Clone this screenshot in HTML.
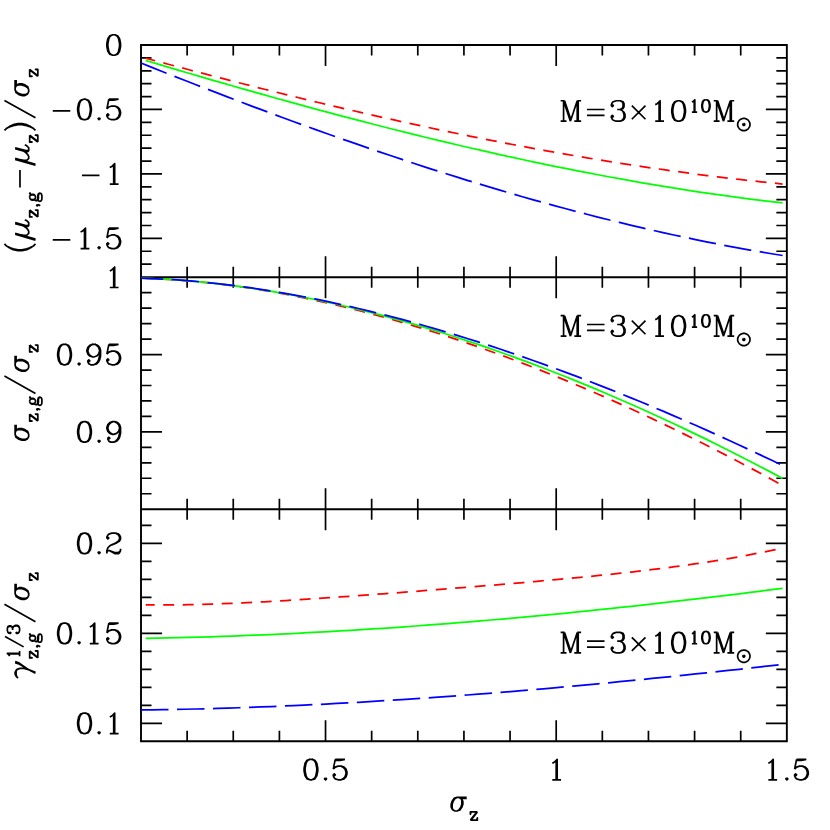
<!DOCTYPE html>
<html><head><meta charset="utf-8"><title>plot</title>
<style>html,body{margin:0;padding:0;background:#fff;font-family:"Liberation Sans",sans-serif}svg{display:block}</style>
</head><body>
<svg width="830" height="830" viewBox="0 0 830 830">
<rect width="830" height="830" fill="#fff"/>
<g fill="none" stroke="#000" stroke-width="1.9" stroke-linecap="butt" stroke-linejoin="miter">
<path d="M141.00 45.00 H786.85 V741.30 H141.00 Z M141.00 277.25 H786.85 M141.00 509.20 H786.85"/>
<path stroke-width="1.7" d="M187.13 45.00 v10.50 M187.13 266.75 v21.00 M187.13 498.70 v21.00 M187.13 741.30 v-10.50 M233.26 45.00 v10.50 M233.26 266.75 v21.00 M233.26 498.70 v21.00 M233.26 741.30 v-10.50 M279.40 45.00 v10.50 M279.40 266.75 v21.00 M279.40 498.70 v21.00 M279.40 741.30 v-10.50 M325.53 45.00 v21.00 M325.53 256.25 v42.00 M325.53 488.20 v42.00 M325.53 741.30 v-21.00 M371.66 45.00 v10.50 M371.66 266.75 v21.00 M371.66 498.70 v21.00 M371.66 741.30 v-10.50 M417.79 45.00 v10.50 M417.79 266.75 v21.00 M417.79 498.70 v21.00 M417.79 741.30 v-10.50 M463.93 45.00 v10.50 M463.93 266.75 v21.00 M463.93 498.70 v21.00 M463.93 741.30 v-10.50 M510.06 45.00 v10.50 M510.06 266.75 v21.00 M510.06 498.70 v21.00 M510.06 741.30 v-10.50 M556.19 45.00 v21.00 M556.19 256.25 v42.00 M556.19 488.20 v42.00 M556.19 741.30 v-21.00 M602.32 45.00 v10.50 M602.32 266.75 v21.00 M602.32 498.70 v21.00 M602.32 741.30 v-10.50 M648.45 45.00 v10.50 M648.45 266.75 v21.00 M648.45 498.70 v21.00 M648.45 741.30 v-10.50 M694.59 45.00 v10.50 M694.59 266.75 v21.00 M694.59 498.70 v21.00 M694.59 741.30 v-10.50 M740.72 45.00 v10.50 M740.72 266.75 v21.00 M740.72 498.70 v21.00 M740.72 741.30 v-10.50 M141.00 57.89 h10.50 M786.85 57.89 h-10.50 M141.00 70.78 h10.50 M786.85 70.78 h-10.50 M141.00 83.68 h10.50 M786.85 83.68 h-10.50 M141.00 96.57 h10.50 M786.85 96.57 h-10.50 M141.00 109.46 h21.00 M786.85 109.46 h-21.00 M141.00 122.35 h10.50 M786.85 122.35 h-10.50 M141.00 135.24 h10.50 M786.85 135.24 h-10.50 M141.00 148.13 h10.50 M786.85 148.13 h-10.50 M141.00 161.03 h10.50 M786.85 161.03 h-10.50 M141.00 173.92 h21.00 M786.85 173.92 h-21.00 M141.00 186.81 h10.50 M786.85 186.81 h-10.50 M141.00 199.70 h10.50 M786.85 199.70 h-10.50 M141.00 212.59 h10.50 M786.85 212.59 h-10.50 M141.00 225.48 h10.50 M786.85 225.48 h-10.50 M141.00 238.38 h21.00 M786.85 238.38 h-21.00 M141.00 251.27 h10.50 M786.85 251.27 h-10.50 M141.00 264.16 h10.50 M786.85 264.16 h-10.50 M141.00 493.74 h10.50 M786.85 493.74 h-10.50 M141.00 478.27 h10.50 M786.85 478.27 h-10.50 M141.00 462.81 h10.50 M786.85 462.81 h-10.50 M141.00 447.35 h10.50 M786.85 447.35 h-10.50 M141.00 431.88 h21.00 M786.85 431.88 h-21.00 M141.00 416.42 h10.50 M786.85 416.42 h-10.50 M141.00 400.96 h10.50 M786.85 400.96 h-10.50 M141.00 385.49 h10.50 M786.85 385.49 h-10.50 M141.00 370.03 h10.50 M786.85 370.03 h-10.50 M141.00 354.57 h21.00 M786.85 354.57 h-21.00 M141.00 339.10 h10.50 M786.85 339.10 h-10.50 M141.00 323.64 h10.50 M786.85 323.64 h-10.50 M141.00 308.18 h10.50 M786.85 308.18 h-10.50 M141.00 292.71 h10.50 M786.85 292.71 h-10.50 M141.00 723.31 h21.00 M786.85 723.31 h-21.00 M141.00 705.32 h10.50 M786.85 705.32 h-10.50 M141.00 687.32 h10.50 M786.85 687.32 h-10.50 M141.00 669.33 h10.50 M786.85 669.33 h-10.50 M141.00 651.34 h10.50 M786.85 651.34 h-10.50 M141.00 633.35 h21.00 M786.85 633.35 h-21.00 M141.00 615.35 h10.50 M786.85 615.35 h-10.50 M141.00 597.36 h10.50 M786.85 597.36 h-10.50 M141.00 579.37 h10.50 M786.85 579.37 h-10.50 M141.00 561.38 h10.50 M786.85 561.38 h-10.50 M141.00 543.39 h21.00 M786.85 543.39 h-21.00 M141.00 525.39 h10.50 M786.85 525.39 h-10.50"/>
</g>
<g fill="none" stroke-width="1.75" stroke-linecap="butt" stroke-linejoin="round">
<path d="M145.70 58.16 L156.49 61.08 L167.29 63.98 L178.08 66.87 L188.88 69.74 L199.67 72.59 L210.47 75.41 L221.26 78.22 L232.06 81.01 L242.85 83.77 L253.65 86.51 L264.44 89.24 L275.24 91.93 L286.03 94.61 L296.83 97.26 L307.62 99.88 L318.42 102.48 L329.21 105.06 L340.01 107.61 L350.80 110.13 L361.60 112.63 L372.39 115.10 L383.19 117.54 L393.98 119.96 L404.78 122.34 L415.57 124.70 L426.37 127.03 L437.16 129.32 L447.96 131.59 L458.75 133.82 L469.55 136.03 L480.34 138.20 L491.14 140.33 L501.93 142.44 L512.73 144.51 L523.52 146.55 L534.32 148.55 L545.11 150.52 L555.91 152.45 L566.70 154.35 L577.50 156.21 L588.29 158.04 L599.09 159.82 L609.88 161.57 L620.68 163.28 L631.47 164.95 L642.27 166.58 L653.06 168.18 L663.86 169.73 L674.65 171.24 L685.45 172.71 L696.24 174.14 L707.04 175.53 L717.83 176.87 L728.63 178.17 L739.42 179.43 L750.22 180.64 L761.01 181.81 L771.81 182.93 L782.60 184.01" stroke="#ff0000" stroke-dasharray="11 8.5" stroke-dashoffset="1.2"/>
<path d="M145.70 60.48 L156.49 63.70 L167.29 66.91 L178.08 70.10 L188.88 73.27 L199.67 76.42 L210.47 79.56 L221.26 82.68 L232.06 85.78 L242.85 88.86 L253.65 91.91 L264.44 94.95 L275.24 97.97 L286.03 100.96 L296.83 103.93 L307.62 106.87 L318.42 109.79 L329.21 112.69 L340.01 115.56 L350.80 118.40 L361.60 121.22 L372.39 124.01 L383.19 126.77 L393.98 129.50 L404.78 132.20 L415.57 134.87 L426.37 137.51 L437.16 140.12 L447.96 142.69 L458.75 145.24 L469.55 147.74 L480.34 150.22 L491.14 152.66 L501.93 155.06 L512.73 157.43 L523.52 159.76 L534.32 162.06 L545.11 164.31 L555.91 166.53 L566.70 168.71 L577.50 170.85 L588.29 172.94 L599.09 175.00 L609.88 177.01 L620.68 178.98 L631.47 180.91 L642.27 182.79 L653.06 184.63 L663.86 186.43 L674.65 188.17 L685.45 189.88 L696.24 191.53 L707.04 193.14 L717.83 194.69 L728.63 196.20 L739.42 197.66 L750.22 199.07 L761.01 200.42 L771.81 201.73 L782.60 202.98" stroke="#00ff00"/>
<path d="M141.00 63.04 L151.87 67.38 L162.75 71.70 L173.62 76.00 L184.50 80.27 L195.37 84.52 L206.25 88.74 L217.12 92.93 L228.00 97.10 L238.87 101.24 L249.75 105.35 L260.62 109.43 L271.49 113.48 L282.37 117.50 L293.24 121.48 L304.12 125.44 L314.99 129.36 L325.87 133.24 L336.74 137.09 L347.62 140.91 L358.49 144.69 L369.37 148.43 L380.24 152.13 L391.12 155.79 L401.99 159.42 L412.86 163.00 L423.74 166.55 L434.61 170.05 L445.49 173.51 L456.36 176.92 L467.24 180.29 L478.11 183.62 L488.99 186.90 L499.86 190.14 L510.74 193.33 L521.61 196.47 L532.48 199.56 L543.36 202.60 L554.23 205.59 L565.11 208.53 L575.98 211.42 L586.86 214.26 L597.73 217.04 L608.61 219.77 L619.48 222.45 L630.36 225.07 L641.23 227.63 L652.11 230.14 L662.98 232.59 L673.85 234.98 L684.73 237.31 L695.60 239.58 L706.48 241.79 L717.35 243.94 L728.23 246.03 L739.10 248.05 L749.98 250.02 L760.85 251.91 L771.73 253.74 L782.60 255.51" stroke="#0000ff" stroke-dasharray="27.5 8.5"/>
<path d="M141.00 278.12 L151.87 278.52 L162.75 279.06 L173.62 279.75 L184.50 280.56 L195.37 281.51 L206.25 282.60 L217.12 283.81 L228.00 285.15 L238.87 286.62 L249.75 288.20 L260.62 289.91 L271.49 291.74 L282.37 293.69 L293.24 295.75 L304.12 297.93 L314.99 300.22 L325.87 302.61 L336.74 305.12 L347.62 307.73 L358.49 310.45 L369.37 313.27 L380.24 316.20 L391.12 319.22 L401.99 322.34 L412.86 325.56 L423.74 328.88 L434.61 332.29 L445.49 335.79 L456.36 339.39 L467.24 343.07 L478.11 346.85 L488.99 350.71 L499.86 354.67 L510.74 358.71 L521.61 362.83 L532.48 367.04 L543.36 371.33 L554.23 375.70 L565.11 380.16 L575.98 384.69 L586.86 389.31 L597.73 394.01 L608.61 398.78 L619.48 403.63 L630.36 408.56 L641.23 413.57 L652.11 418.65 L662.98 423.81 L673.85 429.04 L684.73 434.35 L695.60 439.73 L706.48 445.19 L717.35 450.72 L728.23 456.32 L739.10 462.00 L749.98 467.75 L760.85 473.57 L771.73 479.47 L782.60 485.44" stroke="#ff0000" stroke-dasharray="11 8.5" stroke-dashoffset="-1.6"/>
<path d="M141.00 278.12 L151.87 278.52 L162.75 279.05 L173.62 279.72 L184.50 280.52 L195.37 281.44 L206.25 282.49 L217.12 283.67 L228.00 284.96 L238.87 286.38 L249.75 287.92 L260.62 289.57 L271.49 291.33 L282.37 293.21 L293.24 295.20 L304.12 297.30 L314.99 299.51 L325.87 301.82 L336.74 304.23 L347.62 306.75 L358.49 309.37 L369.37 312.09 L380.24 314.90 L391.12 317.81 L401.99 320.82 L412.86 323.92 L423.74 327.12 L434.61 330.40 L445.49 333.78 L456.36 337.24 L467.24 340.80 L478.11 344.43 L488.99 348.16 L499.86 351.97 L510.74 355.86 L521.61 359.84 L532.48 363.90 L543.36 368.03 L554.23 372.25 L565.11 376.55 L575.98 380.93 L586.86 385.38 L597.73 389.92 L608.61 394.53 L619.48 399.21 L630.36 403.98 L641.23 408.81 L652.11 413.73 L662.98 418.71 L673.85 423.77 L684.73 428.91 L695.60 434.12 L706.48 439.40 L717.35 444.76 L728.23 450.18 L739.10 455.69 L749.98 461.26 L760.85 466.91 L771.73 472.63 L782.60 478.42" stroke="#00ff00"/>
<path d="M141.00 278.12 L151.87 278.52 L162.75 279.05 L173.62 279.70 L184.50 280.49 L195.37 281.40 L206.25 282.43 L217.12 283.58 L228.00 284.85 L238.87 286.24 L249.75 287.74 L260.62 289.35 L271.49 291.06 L282.37 292.89 L293.24 294.82 L304.12 296.85 L314.99 298.98 L325.87 301.22 L336.74 303.55 L347.62 305.97 L358.49 308.49 L369.37 311.10 L380.24 313.81 L391.12 316.60 L401.99 319.47 L412.86 322.44 L423.74 325.48 L434.61 328.61 L445.49 331.82 L456.36 335.11 L467.24 338.48 L478.11 341.92 L488.99 345.44 L499.86 349.04 L510.74 352.71 L521.61 356.45 L532.48 360.26 L543.36 364.14 L554.23 368.09 L565.11 372.11 L575.98 376.19 L586.86 380.34 L597.73 384.56 L608.61 388.84 L619.48 393.18 L630.36 397.59 L641.23 402.06 L652.11 406.59 L662.98 411.18 L673.85 415.83 L684.73 420.54 L695.60 425.32 L706.48 430.14 L717.35 435.03 L728.23 439.98 L739.10 444.98 L749.98 450.04 L760.85 455.16 L771.73 460.33 L782.60 465.56" stroke="#0000ff" stroke-dasharray="27.5 8.5" stroke-dashoffset="5.3"/>
<path d="M145.70 604.91 L156.49 604.98 L167.29 604.96 L178.08 604.86 L188.88 604.68 L199.67 604.43 L210.47 604.12 L221.26 603.75 L232.06 603.32 L242.85 602.84 L253.65 602.32 L264.44 601.76 L275.24 601.16 L286.03 600.53 L296.83 599.86 L307.62 599.17 L318.42 598.46 L329.21 597.72 L340.01 596.96 L350.80 596.19 L361.60 595.41 L372.39 594.61 L383.19 593.80 L393.98 592.98 L404.78 592.15 L415.57 591.31 L426.37 590.47 L437.16 589.62 L447.96 588.76 L458.75 587.89 L469.55 587.02 L480.34 586.14 L491.14 585.25 L501.93 584.35 L512.73 583.44 L523.52 582.51 L534.32 581.57 L545.11 580.62 L555.91 579.64 L566.70 578.64 L577.50 577.62 L588.29 576.57 L599.09 575.49 L609.88 574.37 L620.68 573.22 L631.47 572.02 L642.27 570.78 L653.06 569.49 L663.86 568.14 L674.65 566.73 L685.45 565.25 L696.24 563.71 L707.04 562.08 L717.83 560.38 L728.63 558.58 L739.42 556.69 L750.22 554.70 L761.01 552.60 L771.81 550.38 L782.60 548.04" stroke="#ff0000" stroke-dasharray="11 8.5" stroke-dashoffset="2"/>
<path d="M145.70 638.30 L156.49 638.11 L167.29 637.89 L178.08 637.65 L188.88 637.38 L199.67 637.09 L210.47 636.76 L221.26 636.42 L232.06 636.04 L242.85 635.64 L253.65 635.22 L264.44 634.77 L275.24 634.30 L286.03 633.80 L296.83 633.28 L307.62 632.73 L318.42 632.16 L329.21 631.57 L340.01 630.95 L350.80 630.32 L361.60 629.65 L372.39 628.97 L383.19 628.26 L393.98 627.53 L404.78 626.78 L415.57 626.00 L426.37 625.21 L437.16 624.39 L447.96 623.56 L458.75 622.70 L469.55 621.82 L480.34 620.92 L491.14 620.00 L501.93 619.06 L512.73 618.10 L523.52 617.12 L534.32 616.12 L545.11 615.10 L555.91 614.07 L566.70 613.01 L577.50 611.94 L588.29 610.84 L599.09 609.73 L609.88 608.61 L620.68 607.46 L631.47 606.30 L642.27 605.12 L653.06 603.92 L663.86 602.71 L674.65 601.48 L685.45 600.23 L696.24 598.97 L707.04 597.69 L717.83 596.40 L728.63 595.09 L739.42 593.76 L750.22 592.42 L761.01 591.07 L771.81 589.70 L782.60 588.32" stroke="#00ff00"/>
<path d="M141.00 709.98 L151.87 709.84 L162.75 709.67 L173.62 709.47 L184.50 709.25 L195.37 709.00 L206.25 708.73 L217.12 708.43 L228.00 708.10 L238.87 707.75 L249.75 707.37 L260.62 706.96 L271.49 706.54 L282.37 706.09 L293.24 705.61 L304.12 705.11 L314.99 704.59 L325.87 704.04 L336.74 703.48 L347.62 702.89 L358.49 702.27 L369.37 701.64 L380.24 700.98 L391.12 700.30 L401.99 699.61 L412.86 698.89 L423.74 698.15 L434.61 697.39 L445.49 696.61 L456.36 695.81 L467.24 695.00 L478.11 694.16 L488.99 693.31 L499.86 692.44 L510.74 691.54 L521.61 690.64 L532.48 689.71 L543.36 688.77 L554.23 687.81 L565.11 686.84 L575.98 685.85 L586.86 684.84 L597.73 683.82 L608.61 682.78 L619.48 681.73 L630.36 680.66 L641.23 679.58 L652.11 678.49 L662.98 677.38 L673.85 676.26 L684.73 675.13 L695.60 673.98 L706.48 672.82 L717.35 671.65 L728.23 670.47 L739.10 669.27 L749.98 668.07 L760.85 666.85 L771.73 665.63 L782.60 664.39" stroke="#0000ff" stroke-dasharray="27.5 8.5"/>
</g>
<g fill="none" stroke="#000" stroke-width="1.7" stroke-linecap="butt" stroke-linejoin="round">
<path d="M112.73 34.76 L109.81 35.74 L107.86 38.66 L106.88 43.54 L106.88 46.46 L107.86 51.34 L109.81 54.26 L112.73 55.24 L114.68 55.24 L117.61 54.26 L119.56 51.34 L120.53 46.46 L120.53 43.54 L119.56 38.66 L117.61 35.74 L114.68 34.76 L112.73 34.76 M112.73 34.76 L110.78 35.74 L109.81 36.71 L108.83 38.66 L107.86 43.54 L107.86 46.46 L108.83 51.34 L109.81 53.29 L110.78 54.26 L112.73 55.24 M114.68 55.24 L116.63 54.26 L117.61 53.29 L118.58 51.34 L119.56 46.46 L119.56 43.54 L118.58 38.66 L117.61 36.71 L116.63 35.74 L114.68 34.76"/>
<path d="M52.74 110.92 L70.29 110.92 M83.53 99.22 L80.60 100.20 L78.66 103.12 L77.68 108.00 L77.68 110.92 L78.66 115.80 L80.60 118.72 L83.53 119.70 L85.48 119.70 L88.41 118.72 L90.35 115.80 L91.33 110.92 L91.33 108.00 L90.35 103.12 L88.41 100.20 L85.48 99.22 L83.53 99.22 M83.53 99.22 L81.58 100.20 L80.60 101.17 L79.63 103.12 L78.66 108.00 L78.66 110.92 L79.63 115.80 L80.60 117.75 L81.58 118.72 L83.53 119.70 M85.48 119.70 L87.43 118.72 L88.41 117.75 L89.38 115.80 L90.35 110.92 L90.35 108.00 L89.38 103.12 L88.41 101.17 L87.43 100.20 L85.48 99.22 M99.11 117.75 L98.13 118.72 L99.11 119.70 L100.08 118.72 L99.11 117.75 M108.83 99.22 L106.88 108.97 M106.88 108.97 L108.83 107.02 L111.76 106.05 L114.68 106.05 L117.61 107.02 L119.56 108.97 L120.53 111.90 L120.53 113.85 L119.56 116.77 L117.61 118.72 L114.68 119.70 L111.76 119.70 L108.83 118.72 L107.86 117.75 L106.88 115.80 L106.88 114.82 L107.86 113.85 L108.83 114.82 L107.86 115.80 M114.68 106.05 L116.63 107.02 L118.58 108.97 L119.56 111.90 L119.56 113.85 L118.58 116.77 L116.63 118.72 L114.68 119.70 M108.83 99.22 L118.58 99.22 M108.83 100.20 L113.71 100.20 L118.58 99.22"/>
<path d="M81.95 175.38 L99.50 175.38 M109.81 167.58 L111.76 166.60 L114.68 163.68 L114.68 184.15 M113.71 164.65 L113.71 184.15 M109.81 184.15 L118.58 184.15"/>
<path d="M52.74 239.84 L70.29 239.84 M80.60 232.04 L82.56 231.06 L85.48 228.14 L85.48 248.61 M84.50 229.11 L84.50 248.61 M80.60 248.61 L89.38 248.61 M99.11 246.66 L98.13 247.64 L99.11 248.61 L100.08 247.64 L99.11 246.66 M108.83 228.14 L106.88 237.89 M106.88 237.89 L108.83 235.94 L111.76 234.96 L114.68 234.96 L117.61 235.94 L119.56 237.89 L120.53 240.81 L120.53 242.76 L119.56 245.69 L117.61 247.64 L114.68 248.61 L111.76 248.61 L108.83 247.64 L107.86 246.66 L106.88 244.71 L106.88 243.74 L107.86 242.76 L108.83 243.74 L107.86 244.71 M114.68 234.96 L116.63 235.94 L118.58 237.89 L119.56 240.81 L119.56 242.76 L118.58 245.69 L116.63 247.64 L114.68 248.61 M108.83 228.14 L118.58 228.14 M108.83 229.11 L113.71 229.11 L118.58 228.14"/>
<path d="M109.81 270.91 L111.76 269.94 L114.68 267.01 L114.68 287.49 M113.71 267.99 L113.71 287.49 M109.81 287.49 L118.58 287.49"/>
<path d="M63.54 344.33 L60.62 345.30 L58.67 348.23 L57.69 353.10 L57.69 356.03 L58.67 360.90 L60.62 363.83 L63.54 364.80 L65.49 364.80 L68.42 363.83 L70.37 360.90 L71.34 356.03 L71.34 353.10 L70.37 348.23 L68.42 345.30 L65.49 344.33 L63.54 344.33 M63.54 344.33 L61.59 345.30 L60.62 346.28 L59.64 348.23 L58.67 353.10 L58.67 356.03 L59.64 360.90 L60.62 362.85 L61.59 363.83 L63.54 364.80 M65.49 364.80 L67.44 363.83 L68.42 362.85 L69.39 360.90 L70.37 356.03 L70.37 353.10 L69.39 348.23 L68.42 346.28 L67.44 345.30 L65.49 344.33 M79.12 362.85 L78.14 363.83 L79.12 364.80 L80.09 363.83 L79.12 362.85 M99.57 351.15 L98.59 354.08 L96.64 356.03 L93.72 357.00 L92.74 357.00 L89.82 356.03 L87.87 354.08 L86.89 351.15 L86.89 350.18 L87.87 347.25 L89.82 345.30 L92.74 344.33 L94.69 344.33 L97.62 345.30 L99.57 347.25 L100.54 350.18 L100.54 356.03 L99.57 359.93 L98.59 361.88 L96.64 363.83 L93.72 364.80 L90.79 364.80 L88.84 363.83 L87.87 361.88 L87.87 360.90 L88.84 359.93 L89.82 360.90 L88.84 361.88 M92.74 357.00 L90.79 356.03 L88.84 354.08 L87.87 351.15 L87.87 350.18 L88.84 347.25 L90.79 345.30 L92.74 344.33 M94.69 344.33 L96.64 345.30 L98.59 347.25 L99.57 350.18 L99.57 356.03 L98.59 359.93 L97.62 361.88 L95.67 363.83 L93.72 364.80 M108.83 344.33 L106.88 354.08 M106.88 354.08 L108.83 352.13 L111.76 351.15 L114.68 351.15 L117.61 352.13 L119.56 354.08 L120.53 357.00 L120.53 358.95 L119.56 361.88 L117.61 363.83 L114.68 364.80 L111.76 364.80 L108.83 363.83 L107.86 362.85 L106.88 360.90 L106.88 359.93 L107.86 358.95 L108.83 359.93 L107.86 360.90 M114.68 351.15 L116.63 352.13 L118.58 354.08 L119.56 357.00 L119.56 358.95 L118.58 361.88 L116.63 363.83 L114.68 364.80 M108.83 344.33 L118.58 344.33 M108.83 345.30 L113.71 345.30 L118.58 344.33"/>
<path d="M83.53 421.65 L80.61 422.62 L78.66 425.55 L77.68 430.42 L77.68 433.35 L78.66 438.22 L80.61 441.15 L83.53 442.12 L85.48 442.12 L88.41 441.15 L90.36 438.22 L91.33 433.35 L91.33 430.42 L90.36 425.55 L88.41 422.62 L85.48 421.65 L83.53 421.65 M83.53 421.65 L81.58 422.62 L80.61 423.60 L79.63 425.55 L78.66 430.42 L78.66 433.35 L79.63 438.22 L80.61 440.17 L81.58 441.15 L83.53 442.12 M85.48 442.12 L87.43 441.15 L88.41 440.17 L89.38 438.22 L90.36 433.35 L90.36 430.42 L89.38 425.55 L88.41 423.60 L87.43 422.62 L85.48 421.65 M99.11 440.17 L98.13 441.15 L99.11 442.12 L100.08 441.15 L99.11 440.17 M119.56 428.47 L118.58 431.40 L116.63 433.35 L113.71 434.32 L112.73 434.32 L109.81 433.35 L107.86 431.40 L106.88 428.47 L106.88 427.50 L107.86 424.57 L109.81 422.62 L112.73 421.65 L114.68 421.65 L117.61 422.62 L119.56 424.57 L120.53 427.50 L120.53 433.35 L119.56 437.25 L118.58 439.20 L116.63 441.15 L113.71 442.12 L110.78 442.12 L108.83 441.15 L107.86 439.20 L107.86 438.22 L108.83 437.25 L109.81 438.22 L108.83 439.20 M112.73 434.32 L110.78 433.35 L108.83 431.40 L107.86 428.47 L107.86 427.50 L108.83 424.57 L110.78 422.62 L112.73 421.65 M114.68 421.65 L116.63 422.62 L118.58 424.57 L119.56 427.50 L119.56 433.35 L118.58 437.25 L117.61 439.20 L115.66 441.15 L113.71 442.12"/>
<path d="M83.53 533.15 L80.61 534.12 L78.66 537.05 L77.68 541.92 L77.68 544.85 L78.66 549.72 L80.61 552.65 L83.53 553.62 L85.48 553.62 L88.41 552.65 L90.36 549.72 L91.33 544.85 L91.33 541.92 L90.36 537.05 L88.41 534.12 L85.48 533.15 L83.53 533.15 M83.53 533.15 L81.58 534.12 L80.61 535.10 L79.63 537.05 L78.66 541.92 L78.66 544.85 L79.63 549.72 L80.61 551.67 L81.58 552.65 L83.53 553.62 M85.48 553.62 L87.43 552.65 L88.41 551.67 L89.38 549.72 L90.36 544.85 L90.36 541.92 L89.38 537.05 L88.41 535.10 L87.43 534.12 L85.48 533.15 M99.11 551.67 L98.13 552.65 L99.11 553.62 L100.08 552.65 L99.11 551.67 M107.86 537.05 L108.83 538.02 L107.86 539.00 L106.88 538.02 L106.88 537.05 L107.86 535.10 L108.83 534.12 L111.76 533.15 L115.66 533.15 L118.58 534.12 L119.56 535.10 L120.53 537.05 L120.53 539.00 L119.56 540.95 L116.63 542.90 L111.76 544.85 L109.81 545.82 L107.86 547.77 L106.88 550.70 L106.88 553.62 M115.66 533.15 L117.61 534.12 L118.58 535.10 L119.56 537.05 L119.56 539.00 L118.58 540.95 L115.66 542.90 L111.76 544.85 M106.88 551.67 L107.86 550.70 L109.81 550.70 L114.68 552.65 L117.61 552.65 L119.56 551.67 L120.53 550.70 M109.81 550.70 L114.68 553.62 L118.58 553.62 L119.56 552.65 L120.53 550.70 L120.53 548.75"/>
<path d="M63.54 623.11 L60.62 624.08 L58.67 627.01 L57.69 631.88 L57.69 634.81 L58.67 639.68 L60.62 642.61 L63.54 643.58 L65.49 643.58 L68.42 642.61 L70.37 639.68 L71.34 634.81 L71.34 631.88 L70.37 627.01 L68.42 624.08 L65.49 623.11 L63.54 623.11 M63.54 623.11 L61.59 624.08 L60.62 625.06 L59.64 627.01 L58.67 631.88 L58.67 634.81 L59.64 639.68 L60.62 641.63 L61.59 642.61 L63.54 643.58 M65.49 643.58 L67.44 642.61 L68.42 641.63 L69.39 639.68 L70.37 634.81 L70.37 631.88 L69.39 627.01 L68.42 625.06 L67.44 624.08 L65.49 623.11 M79.12 641.63 L78.14 642.61 L79.12 643.58 L80.09 642.61 L79.12 641.63 M89.82 627.01 L91.77 626.03 L94.69 623.11 L94.69 643.58 M93.72 624.08 L93.72 643.58 M89.82 643.58 L98.59 643.58 M108.83 623.11 L106.88 632.86 M106.88 632.86 L108.83 630.91 L111.76 629.93 L114.68 629.93 L117.61 630.91 L119.56 632.86 L120.53 635.78 L120.53 637.73 L119.56 640.66 L117.61 642.61 L114.68 643.58 L111.76 643.58 L108.83 642.61 L107.86 641.63 L106.88 639.68 L106.88 638.71 L107.86 637.73 L108.83 638.71 L107.86 639.68 M114.68 629.93 L116.63 630.91 L118.58 632.86 L119.56 635.78 L119.56 637.73 L118.58 640.66 L116.63 642.61 L114.68 643.58 M108.83 623.11 L118.58 623.11 M108.83 624.08 L113.71 624.08 L118.58 623.11"/>
<path d="M83.53 713.07 L80.61 714.05 L78.66 716.97 L77.68 721.85 L77.68 724.77 L78.66 729.65 L80.61 732.57 L83.53 733.55 L85.48 733.55 L88.41 732.57 L90.36 729.65 L91.33 724.77 L91.33 721.85 L90.36 716.97 L88.41 714.05 L85.48 713.07 L83.53 713.07 M83.53 713.07 L81.58 714.05 L80.61 715.02 L79.63 716.97 L78.66 721.85 L78.66 724.77 L79.63 729.65 L80.61 731.60 L81.58 732.57 L83.53 733.55 M85.48 733.55 L87.43 732.57 L88.41 731.60 L89.38 729.65 L90.36 724.77 L90.36 721.85 L89.38 716.97 L88.41 715.02 L87.43 714.05 L85.48 713.07 M99.11 731.60 L98.13 732.57 L99.11 733.55 L100.08 732.57 L99.11 731.60 M109.81 716.97 L111.76 716.00 L114.68 713.07 L114.68 733.55 M113.71 714.05 L113.71 733.55 M109.81 733.55 L118.58 733.55"/>
<path d="M309.95 759.32 L307.03 760.30 L305.08 763.22 L304.10 768.10 L304.10 771.02 L305.08 775.90 L307.03 778.82 L309.95 779.80 L311.90 779.80 L314.83 778.82 L316.78 775.90 L317.75 771.02 L317.75 768.10 L316.78 763.22 L314.83 760.30 L311.90 759.32 L309.95 759.32 M309.95 759.32 L308.00 760.30 L307.03 761.27 L306.05 763.22 L305.08 768.10 L305.08 771.02 L306.05 775.90 L307.03 777.85 L308.00 778.82 L309.95 779.80 M311.90 779.80 L313.85 778.82 L314.83 777.85 L315.80 775.90 L316.78 771.02 L316.78 768.10 L315.80 763.22 L314.83 761.27 L313.85 760.30 L311.90 759.32 M325.53 777.85 L324.55 778.82 L325.53 779.80 L326.50 778.82 L325.53 777.85 M335.25 759.32 L333.30 769.07 M333.30 769.07 L335.25 767.12 L338.18 766.15 L341.10 766.15 L344.03 767.12 L345.98 769.07 L346.95 772.00 L346.95 773.95 L345.98 776.88 L344.03 778.82 L341.10 779.80 L338.18 779.80 L335.25 778.82 L334.28 777.85 L333.30 775.90 L333.30 774.92 L334.28 773.95 L335.25 774.92 L334.28 775.90 M341.10 766.15 L343.05 767.12 L345.00 769.07 L345.98 772.00 L345.98 773.95 L345.00 776.88 L343.05 778.82 L341.10 779.80 M335.25 759.32 L345.00 759.32 M335.25 760.30 L340.13 760.30 L345.00 759.32"/>
<path d="M552.29 763.22 L554.24 762.25 L557.16 759.32 L557.16 779.80 M556.19 760.30 L556.19 779.80 M552.29 779.80 L561.06 779.80"/>
<path d="M768.35 763.22 L770.30 762.25 L773.22 759.32 L773.22 779.80 M772.25 760.30 L772.25 779.80 M768.35 779.80 L777.12 779.80 M786.85 777.85 L785.88 778.82 L786.85 779.80 L787.83 778.82 L786.85 777.85 M796.58 759.32 L794.63 769.07 M794.63 769.07 L796.58 767.12 L799.50 766.15 L802.43 766.15 L805.35 767.12 L807.30 769.07 L808.28 772.00 L808.28 773.95 L807.30 776.88 L805.35 778.82 L802.43 779.80 L799.50 779.80 L796.58 778.82 L795.60 777.85 L794.63 775.90 L794.63 774.92 L795.60 773.95 L796.58 774.92 L795.60 775.90 M802.43 766.15 L804.38 767.12 L806.33 769.07 L807.30 772.00 L807.30 773.95 L806.33 776.88 L804.38 778.82 L802.43 779.80 M796.58 759.32 L806.33 759.32 M796.58 760.30 L801.45 760.30 L806.33 759.32"/>
<path d="M563.58 100.73 L563.58 121.20 M564.55 100.73 L570.40 118.28 M563.58 100.73 L570.40 121.20 M577.23 100.73 L570.40 121.20 M577.23 100.73 L577.23 121.20 M578.20 100.73 L578.20 121.20 M560.65 100.73 L564.55 100.73 M577.23 100.73 L581.12 100.73 M560.65 121.20 L566.50 121.20 M574.30 121.20 L581.12 121.20 M586.98 109.50 L604.53 109.50 M586.98 115.35 L604.53 115.35 M612.33 104.62 L613.30 105.60 L612.33 106.58 L611.35 105.60 L611.35 104.62 L612.33 102.68 L613.30 101.70 L616.23 100.73 L620.12 100.73 L623.05 101.70 L624.03 103.65 L624.03 106.58 L623.05 108.53 L620.12 109.50 L617.20 109.50 M620.12 100.73 L622.08 101.70 L623.05 103.65 L623.05 106.58 L622.08 108.53 L620.12 109.50 M620.12 109.50 L622.08 110.48 L624.03 112.42 L625.00 114.38 L625.00 117.30 L624.03 119.25 L623.05 120.23 L620.12 121.20 L616.23 121.20 L613.30 120.23 L612.33 119.25 L611.35 117.30 L611.35 116.33 L612.33 115.35 L613.30 116.33 L612.33 117.30 M623.05 111.45 L624.03 114.38 L624.03 117.30 L623.05 119.25 L622.08 120.23 L620.12 121.20 M631.83 105.60 L645.48 119.25 M645.48 105.60 L631.83 119.25 M655.23 104.62 L657.18 103.65 L660.10 100.73 L660.10 121.20 M659.12 101.70 L659.12 121.20 M655.23 121.20 L664.00 121.20 M677.65 100.73 L674.73 101.70 L672.78 104.62 L671.80 109.50 L671.80 112.42 L672.78 117.30 L674.73 120.23 L677.65 121.20 L679.60 121.20 L682.53 120.23 L684.48 117.30 L685.45 112.42 L685.45 109.50 L684.48 104.62 L682.53 101.70 L679.60 100.73 L677.65 100.73 M677.65 100.73 L675.70 101.70 L674.73 102.68 L673.75 104.62 L672.78 109.50 L672.78 112.42 L673.75 117.30 L674.73 119.25 L675.70 120.23 L677.65 121.20 M679.60 121.20 L681.55 120.23 L682.53 119.25 L683.50 117.30 L684.48 112.42 L684.48 109.50 L683.50 104.62 L682.53 102.68 L681.55 101.70 L679.60 100.73 M691.88 102.09 L693.06 101.50 L694.81 99.75 L694.81 112.03 M694.23 100.34 L694.23 112.03 M691.88 112.03 L697.15 112.03 M705.34 99.75 L703.59 100.34 L702.42 102.09 L701.83 105.02 L701.83 106.77 L702.42 109.70 L703.59 111.45 L705.34 112.03 L706.51 112.03 L708.27 111.45 L709.44 109.70 L710.02 106.77 L710.02 105.02 L709.44 102.09 L708.27 100.34 L706.51 99.75 L705.34 99.75 M705.34 99.75 L704.17 100.34 L703.59 100.92 L703.00 102.09 L702.42 105.02 L702.42 106.77 L703.00 109.70 L703.59 110.87 L704.17 111.45 L705.34 112.03 M706.51 112.03 L707.68 111.45 L708.27 110.87 L708.85 109.70 L709.44 106.77 L709.44 105.02 L708.85 102.09 L708.27 100.92 L707.68 100.34 L706.51 99.75 M716.65 100.73 L716.65 121.20 M717.62 100.73 L723.48 118.28 M716.65 100.73 L723.48 121.20 M730.30 100.73 L723.48 121.20 M730.30 100.73 L730.30 121.20 M731.28 100.73 L731.28 121.20 M713.73 100.73 L717.62 100.73 M730.30 100.73 L734.20 100.73 M713.73 121.20 L719.58 121.20 M727.38 121.20 L734.20 121.20 M742.94 118.37 L741.18 118.96 L739.43 120.13 L738.26 121.88 L737.67 123.64 L737.67 125.39 L738.26 127.15 L739.43 128.90 L741.18 130.07 L742.94 130.66 L744.69 130.66 L746.45 130.07 L748.20 128.90 L749.37 127.15 L749.96 125.39 L749.96 123.64 L749.37 121.88 L748.20 120.13 L746.45 118.96 L744.69 118.37 L742.94 118.37 M743.52 123.64 L742.94 124.22 L742.94 124.81 L743.52 125.39 L744.11 125.39 L744.69 124.81 L744.69 124.22 L744.11 123.64 L743.52 123.64 M743.52 124.22 L743.52 124.81 L744.11 124.81 L744.11 124.22 L743.52 124.22"/>
<path d="M563.58 315.72 L563.58 336.20 M564.55 315.72 L570.40 333.27 M563.58 315.72 L570.40 336.20 M577.23 315.72 L570.40 336.20 M577.23 315.72 L577.23 336.20 M578.20 315.72 L578.20 336.20 M560.65 315.72 L564.55 315.72 M577.23 315.72 L581.12 315.72 M560.65 336.20 L566.50 336.20 M574.30 336.20 L581.12 336.20 M586.98 324.50 L604.53 324.50 M586.98 330.35 L604.53 330.35 M612.33 319.62 L613.30 320.60 L612.33 321.57 L611.35 320.60 L611.35 319.62 L612.33 317.68 L613.30 316.70 L616.23 315.72 L620.12 315.72 L623.05 316.70 L624.03 318.65 L624.03 321.57 L623.05 323.52 L620.12 324.50 L617.20 324.50 M620.12 315.72 L622.08 316.70 L623.05 318.65 L623.05 321.57 L622.08 323.52 L620.12 324.50 M620.12 324.50 L622.08 325.47 L624.03 327.43 L625.00 329.38 L625.00 332.30 L624.03 334.25 L623.05 335.22 L620.12 336.20 L616.23 336.20 L613.30 335.22 L612.33 334.25 L611.35 332.30 L611.35 331.32 L612.33 330.35 L613.30 331.32 L612.33 332.30 M623.05 326.45 L624.03 329.38 L624.03 332.30 L623.05 334.25 L622.08 335.22 L620.12 336.20 M631.83 320.60 L645.48 334.25 M645.48 320.60 L631.83 334.25 M655.23 319.62 L657.18 318.65 L660.10 315.72 L660.10 336.20 M659.12 316.70 L659.12 336.20 M655.23 336.20 L664.00 336.20 M677.65 315.72 L674.73 316.70 L672.78 319.62 L671.80 324.50 L671.80 327.43 L672.78 332.30 L674.73 335.22 L677.65 336.20 L679.60 336.20 L682.53 335.22 L684.48 332.30 L685.45 327.43 L685.45 324.50 L684.48 319.62 L682.53 316.70 L679.60 315.72 L677.65 315.72 M677.65 315.72 L675.70 316.70 L674.73 317.68 L673.75 319.62 L672.78 324.50 L672.78 327.43 L673.75 332.30 L674.73 334.25 L675.70 335.22 L677.65 336.20 M679.60 336.20 L681.55 335.22 L682.53 334.25 L683.50 332.30 L684.48 327.43 L684.48 324.50 L683.50 319.62 L682.53 317.68 L681.55 316.70 L679.60 315.72 M691.88 317.09 L693.06 316.50 L694.81 314.75 L694.81 327.03 M694.23 315.33 L694.23 327.03 M691.88 327.03 L697.15 327.03 M705.34 314.75 L703.59 315.33 L702.42 317.09 L701.83 320.01 L701.83 321.77 L702.42 324.69 L703.59 326.45 L705.34 327.03 L706.51 327.03 L708.27 326.45 L709.44 324.69 L710.02 321.77 L710.02 320.01 L709.44 317.09 L708.27 315.33 L706.51 314.75 L705.34 314.75 M705.34 314.75 L704.17 315.33 L703.59 315.92 L703.00 317.09 L702.42 320.01 L702.42 321.77 L703.00 324.69 L703.59 325.87 L704.17 326.45 L705.34 327.03 M706.51 327.03 L707.68 326.45 L708.27 325.87 L708.85 324.69 L709.44 321.77 L709.44 320.01 L708.85 317.09 L708.27 315.92 L707.68 315.33 L706.51 314.75 M716.65 315.72 L716.65 336.20 M717.62 315.72 L723.48 333.27 M716.65 315.72 L723.48 336.20 M730.30 315.72 L723.48 336.20 M730.30 315.72 L730.30 336.20 M731.28 315.72 L731.28 336.20 M713.73 315.72 L717.62 315.72 M730.30 315.72 L734.20 315.72 M713.73 336.20 L719.58 336.20 M727.38 336.20 L734.20 336.20 M742.94 333.37 L741.18 333.96 L739.43 335.13 L738.26 336.88 L737.67 338.64 L737.67 340.39 L738.26 342.15 L739.43 343.90 L741.18 345.07 L742.94 345.66 L744.69 345.66 L746.45 345.07 L748.20 343.90 L749.37 342.15 L749.96 340.39 L749.96 338.64 L749.37 336.88 L748.20 335.13 L746.45 333.96 L744.69 333.37 L742.94 333.37 M743.52 338.64 L742.94 339.22 L742.94 339.81 L743.52 340.39 L744.11 340.39 L744.69 339.81 L744.69 339.22 L744.11 338.64 L743.52 338.64 M743.52 339.22 L743.52 339.81 L744.11 339.81 L744.11 339.22 L743.52 339.22"/>
<path d="M563.58 632.42 L563.58 652.90 M564.55 632.42 L570.40 649.98 M563.58 632.42 L570.40 652.90 M577.23 632.42 L570.40 652.90 M577.23 632.42 L577.23 652.90 M578.20 632.42 L578.20 652.90 M560.65 632.42 L564.55 632.42 M577.23 632.42 L581.12 632.42 M560.65 652.90 L566.50 652.90 M574.30 652.90 L581.12 652.90 M586.98 641.20 L604.53 641.20 M586.98 647.05 L604.53 647.05 M612.33 636.32 L613.30 637.30 L612.33 638.27 L611.35 637.30 L611.35 636.32 L612.33 634.38 L613.30 633.40 L616.23 632.42 L620.12 632.42 L623.05 633.40 L624.03 635.35 L624.03 638.27 L623.05 640.23 L620.12 641.20 L617.20 641.20 M620.12 632.42 L622.08 633.40 L623.05 635.35 L623.05 638.27 L622.08 640.23 L620.12 641.20 M620.12 641.20 L622.08 642.17 L624.03 644.12 L625.00 646.07 L625.00 649.00 L624.03 650.95 L623.05 651.92 L620.12 652.90 L616.23 652.90 L613.30 651.92 L612.33 650.95 L611.35 649.00 L611.35 648.02 L612.33 647.05 L613.30 648.02 L612.33 649.00 M623.05 643.15 L624.03 646.07 L624.03 649.00 L623.05 650.95 L622.08 651.92 L620.12 652.90 M631.83 637.30 L645.48 650.95 M645.48 637.30 L631.83 650.95 M655.23 636.32 L657.18 635.35 L660.10 632.42 L660.10 652.90 M659.12 633.40 L659.12 652.90 M655.23 652.90 L664.00 652.90 M677.65 632.42 L674.73 633.40 L672.78 636.32 L671.80 641.20 L671.80 644.12 L672.78 649.00 L674.73 651.92 L677.65 652.90 L679.60 652.90 L682.53 651.92 L684.48 649.00 L685.45 644.12 L685.45 641.20 L684.48 636.32 L682.53 633.40 L679.60 632.42 L677.65 632.42 M677.65 632.42 L675.70 633.40 L674.73 634.38 L673.75 636.32 L672.78 641.20 L672.78 644.12 L673.75 649.00 L674.73 650.95 L675.70 651.92 L677.65 652.90 M679.60 652.90 L681.55 651.92 L682.53 650.95 L683.50 649.00 L684.48 644.12 L684.48 641.20 L683.50 636.32 L682.53 634.38 L681.55 633.40 L679.60 632.42 M691.88 633.79 L693.06 633.20 L694.81 631.45 L694.81 643.74 M694.23 632.03 L694.23 643.74 M691.88 643.74 L697.15 643.74 M705.34 631.45 L703.59 632.03 L702.42 633.79 L701.83 636.71 L701.83 638.47 L702.42 641.39 L703.59 643.15 L705.34 643.74 L706.51 643.74 L708.27 643.15 L709.44 641.39 L710.02 638.47 L710.02 636.71 L709.44 633.79 L708.27 632.03 L706.51 631.45 L705.34 631.45 M705.34 631.45 L704.17 632.03 L703.59 632.62 L703.00 633.79 L702.42 636.71 L702.42 638.47 L703.00 641.39 L703.59 642.56 L704.17 643.15 L705.34 643.74 M706.51 643.74 L707.68 643.15 L708.27 642.56 L708.85 641.39 L709.44 638.47 L709.44 636.71 L708.85 633.79 L708.27 632.62 L707.68 632.03 L706.51 631.45 M716.65 632.42 L716.65 652.90 M717.62 632.42 L723.48 649.98 M716.65 632.42 L723.48 652.90 M730.30 632.42 L723.48 652.90 M730.30 632.42 L730.30 652.90 M731.28 632.42 L731.28 652.90 M713.73 632.42 L717.62 632.42 M730.30 632.42 L734.20 632.42 M713.73 652.90 L719.58 652.90 M727.38 652.90 L734.20 652.90 M742.94 650.07 L741.18 650.66 L739.43 651.83 L738.26 653.58 L737.67 655.34 L737.67 657.09 L738.26 658.85 L739.43 660.60 L741.18 661.77 L742.94 662.36 L744.69 662.36 L746.45 661.77 L748.20 660.60 L749.37 658.85 L749.96 657.09 L749.96 655.34 L749.37 653.58 L748.20 651.83 L746.45 650.66 L744.69 650.07 L742.94 650.07 M743.52 655.34 L742.94 655.92 L742.94 656.51 L743.52 657.09 L744.11 657.09 L744.69 656.51 L744.69 655.92 L744.11 655.34 L743.52 655.34 M743.52 655.92 L743.52 656.51 L744.11 656.51 L744.11 655.92 L743.52 655.92"/>
<path d="M466.71 797.42 L457.01 797.42 L454.10 798.39 L452.16 801.30 L451.19 804.21 L451.19 807.12 L452.16 809.06 L453.13 810.03 L455.07 811.00 L457.01 811.00 L459.92 810.03 L461.86 807.12 L462.83 804.21 L462.83 801.30 L461.86 799.36 L460.89 798.39 L458.95 797.42 M457.01 797.42 L455.07 798.39 L453.13 801.30 L452.16 804.21 L452.16 808.09 L453.13 810.03 M457.01 811.00 L458.95 810.03 L460.89 807.12 L461.86 804.21 L461.86 800.33 L460.89 798.39 M460.89 798.39 L466.71 798.39 M476.79 811.97 L470.39 820.12 M477.38 811.97 L470.97 820.12 M470.97 811.97 L470.39 814.30 L470.39 811.97 L477.38 811.97 M470.39 820.12 L477.38 820.12 L477.38 817.79 L476.79 820.12"/>
<path d="M4.45 243.96 L6.39 245.90 L9.30 247.84 L13.18 249.78 L18.03 250.75 L21.91 250.75 L26.76 249.78 L30.64 247.84 L33.55 245.90 L35.49 243.96 M6.39 245.90 L10.27 247.84 L13.18 248.81 L18.03 249.78 L21.91 249.78 L26.76 248.81 L29.67 247.84 L33.55 245.90 M15.12 234.26 L35.49 240.08 M15.12 233.29 L35.49 239.11 M18.03 234.26 L23.85 235.23 L26.76 235.23 L28.70 233.29 L28.70 231.35 L27.73 229.41 L25.79 227.47 L22.88 225.53 M15.12 223.59 L25.79 226.50 L27.73 226.50 L28.70 225.53 L28.70 222.62 L26.76 220.68 L24.82 219.71 M15.12 222.62 L25.79 225.53 L27.73 225.53 L28.70 224.56 M29.67 210.60 L37.82 217.00 M29.67 210.01 L37.82 216.42 M29.67 216.42 L32.00 217.00 L29.67 217.00 L29.67 210.01 M37.82 217.00 L37.82 210.01 L35.49 210.01 L37.82 210.60 M37.82 205.36 L37.24 205.94 L36.65 205.36 L37.24 204.78 L38.40 204.78 L39.56 205.36 L40.15 205.94 M29.67 197.79 L30.25 198.96 L30.83 199.54 L32.00 200.12 L33.16 200.12 L34.33 199.54 L34.91 198.96 L35.49 197.79 L35.49 196.63 L34.91 195.46 L34.33 194.88 L33.16 194.30 L32.00 194.30 L30.83 194.88 L30.25 195.46 L29.67 196.63 L29.67 197.79 M30.25 198.96 L31.42 199.54 L33.74 199.54 L34.91 198.96 M34.91 195.46 L33.74 194.88 L31.42 194.88 L30.25 195.46 M30.83 194.88 L30.25 194.30 L29.67 193.14 L30.25 193.14 L30.25 194.30 M34.33 199.54 L34.91 200.12 L36.07 200.70 L36.65 200.70 L37.82 200.12 L38.40 198.37 L38.40 195.46 L38.98 193.72 L39.56 193.14 M36.65 200.70 L37.24 200.12 L37.82 198.37 L37.82 195.46 L38.40 193.72 L39.56 193.14 L40.15 193.14 L41.31 193.72 L41.89 195.46 L41.89 198.96 L41.31 200.70 L40.15 201.28 L39.56 201.28 L38.40 200.70 L37.82 198.96 M19.97 187.51 L19.97 170.05 M15.12 159.38 L35.49 165.20 M15.12 158.41 L35.49 164.23 M18.03 159.38 L23.85 160.35 L26.76 160.35 L28.70 158.41 L28.70 156.47 L27.73 154.53 L25.79 152.59 L22.88 150.65 M15.12 148.71 L25.79 151.62 L27.73 151.62 L28.70 150.65 L28.70 147.74 L26.76 145.80 L24.82 144.83 M15.12 147.74 L25.79 150.65 L27.73 150.65 L28.70 149.68 M29.67 135.71 L37.82 142.11 M29.67 135.13 L37.82 141.53 M29.67 141.53 L32.00 142.11 L29.67 142.11 L29.67 135.13 M37.82 142.11 L37.82 135.13 L35.49 135.13 L37.82 135.71 M4.45 130.47 L6.39 128.53 L9.30 126.59 L13.18 124.65 L18.03 123.68 L21.91 123.68 L26.76 124.65 L30.64 126.59 L33.55 128.53 L35.49 130.47 M6.39 128.53 L10.27 126.59 L13.18 125.62 L18.03 124.65 L21.91 124.65 L26.76 125.62 L29.67 126.59 L33.55 128.53 M4.45 100.40 L35.49 117.86 M15.12 80.03 L15.12 89.73 L16.09 92.64 L19.00 94.58 L21.91 95.55 L24.82 95.55 L26.76 94.58 L27.73 93.61 L28.70 91.67 L28.70 89.73 L27.73 86.82 L24.82 84.88 L21.91 83.91 L19.00 83.91 L17.06 84.88 L16.09 85.85 L15.12 87.79 M15.12 89.73 L16.09 91.67 L19.00 93.61 L21.91 94.58 L25.79 94.58 L27.73 93.61 M28.70 89.73 L27.73 87.79 L24.82 85.85 L21.91 84.88 L18.03 84.88 L16.09 85.85 M16.09 85.85 L16.09 80.03 M29.67 69.94 L37.82 76.35 M29.67 69.36 L37.82 75.76 M29.67 75.76 L32.00 76.35 L29.67 76.35 L29.67 69.36 M37.82 76.35 L37.82 69.36 L35.49 69.36 L37.82 69.94"/>
<path d="M15.12 424.75 L15.12 434.45 L16.09 437.36 L19.00 439.30 L21.91 440.27 L24.82 440.27 L26.76 439.30 L27.73 438.33 L28.70 436.39 L28.70 434.45 L27.73 431.54 L24.82 429.60 L21.91 428.63 L19.00 428.63 L17.06 429.60 L16.09 430.57 L15.12 432.51 M15.12 434.45 L16.09 436.39 L19.00 438.33 L21.91 439.30 L25.79 439.30 L27.73 438.33 M28.70 434.45 L27.73 432.51 L24.82 430.57 L21.91 429.60 L18.03 429.60 L16.09 430.57 M16.09 430.57 L16.09 424.75 M29.67 414.66 L37.82 421.06 M29.67 414.08 L37.82 420.48 M29.67 420.48 L32.00 421.06 L29.67 421.06 L29.67 414.08 M37.82 421.06 L37.82 414.08 L35.49 414.08 L37.82 414.66 M37.82 409.42 L37.24 410.01 L36.65 409.42 L37.24 408.84 L38.40 408.84 L39.56 409.42 L40.15 410.01 M29.67 401.86 L30.25 403.02 L30.83 403.60 L32.00 404.19 L33.16 404.19 L34.33 403.60 L34.91 403.02 L35.49 401.86 L35.49 400.69 L34.91 399.53 L34.33 398.95 L33.16 398.37 L32.00 398.37 L30.83 398.95 L30.25 399.53 L29.67 400.69 L29.67 401.86 M30.25 403.02 L31.42 403.60 L33.74 403.60 L34.91 403.02 M34.91 399.53 L33.74 398.95 L31.42 398.95 L30.25 399.53 M30.83 398.95 L30.25 398.37 L29.67 397.20 L30.25 397.20 L30.25 398.37 M34.33 403.60 L34.91 404.19 L36.07 404.77 L36.65 404.77 L37.82 404.19 L38.40 402.44 L38.40 399.53 L38.98 397.78 L39.56 397.20 M36.65 404.77 L37.24 404.19 L37.82 402.44 L37.82 399.53 L38.40 397.78 L39.56 397.20 L40.15 397.20 L41.31 397.78 L41.89 399.53 L41.89 403.02 L41.31 404.77 L40.15 405.35 L39.56 405.35 L38.40 404.77 L37.82 403.02 M4.45 376.06 L35.49 393.52 M15.12 355.69 L15.12 365.39 L16.09 368.30 L19.00 370.24 L21.91 371.21 L24.82 371.21 L26.76 370.24 L27.73 369.27 L28.70 367.33 L28.70 365.39 L27.73 362.48 L24.82 360.54 L21.91 359.57 L19.00 359.57 L17.06 360.54 L16.09 361.51 L15.12 363.45 M15.12 365.39 L16.09 367.33 L19.00 369.27 L21.91 370.24 L25.79 370.24 L27.73 369.27 M28.70 365.39 L27.73 363.45 L24.82 361.51 L21.91 360.54 L18.03 360.54 L16.09 361.51 M16.09 361.51 L16.09 355.69 M29.67 345.60 L37.82 352.00 M29.67 345.02 L37.82 351.42 M29.67 351.42 L32.00 352.00 L29.67 352.00 L29.67 345.02 M37.82 352.00 L37.82 345.02 L35.49 345.02 L37.82 345.60"/>
<path d="M18.03 678.12 L16.09 676.18 L15.12 674.24 L15.12 672.30 L16.09 670.36 L17.06 669.38 L19.97 668.42 L23.85 668.42 L27.73 669.38 L35.49 672.30 M17.06 677.14 L16.09 675.21 L16.09 671.33 L17.06 669.38 M15.12 661.62 L18.03 662.60 L19.97 663.57 L26.76 668.42 L31.61 671.33 L35.49 673.26 M15.12 662.60 L18.03 663.57 L19.97 664.54 L26.76 668.42 M9.69 656.19 L9.11 655.03 L7.36 653.28 L19.58 653.28 M7.94 653.87 L19.58 653.87 M19.58 656.19 L19.58 650.96 M5.03 636.41 L23.66 646.88 M9.69 632.91 L10.27 632.33 L10.85 632.91 L10.27 633.50 L9.69 633.50 L8.52 632.91 L7.94 632.33 L7.36 630.59 L7.36 628.26 L7.94 626.51 L9.11 625.93 L10.85 625.93 L12.02 626.51 L12.60 628.26 L12.60 630.00 M7.36 628.26 L7.94 627.09 L9.11 626.51 L10.85 626.51 L12.02 627.09 L12.60 628.26 M12.60 628.26 L13.18 627.09 L14.34 625.93 L15.51 625.35 L17.25 625.35 L18.42 625.93 L19.00 626.51 L19.58 628.26 L19.58 630.59 L19.00 632.33 L18.42 632.91 L17.25 633.50 L16.67 633.50 L16.09 632.91 L16.67 632.33 L17.25 632.91 M13.76 626.51 L15.51 625.93 L17.25 625.93 L18.42 626.51 L19.00 627.09 L19.58 628.26 M29.67 651.54 L37.82 657.94 M29.67 650.96 L37.82 657.36 M29.67 657.36 L32.00 657.94 L29.67 657.94 L29.67 650.96 M37.82 657.94 L37.82 650.96 L35.49 650.96 L37.82 651.54 M37.82 646.30 L37.24 646.88 L36.65 646.30 L37.24 645.72 L38.40 645.72 L39.56 646.30 L40.15 646.88 M29.67 638.73 L30.25 639.90 L30.83 640.48 L32.00 641.06 L33.16 641.06 L34.33 640.48 L34.91 639.90 L35.49 638.73 L35.49 637.57 L34.91 636.41 L34.33 635.82 L33.16 635.24 L32.00 635.24 L30.83 635.82 L30.25 636.41 L29.67 637.57 L29.67 638.73 M30.25 639.90 L31.42 640.48 L33.74 640.48 L34.91 639.90 M34.91 636.41 L33.74 635.82 L31.42 635.82 L30.25 636.41 M30.83 635.82 L30.25 635.24 L29.67 634.08 L30.25 634.08 L30.25 635.24 M34.33 640.48 L34.91 641.06 L36.07 641.64 L36.65 641.64 L37.82 641.06 L38.40 639.32 L38.40 636.41 L38.98 634.66 L39.56 634.08 M36.65 641.64 L37.24 641.06 L37.82 639.32 L37.82 636.41 L38.40 634.66 L39.56 634.08 L40.15 634.08 L41.31 634.66 L41.89 636.41 L41.89 639.90 L41.31 641.64 L40.15 642.23 L39.56 642.23 L38.40 641.64 L37.82 639.90 M4.45 604.20 L35.49 621.66 M15.12 583.83 L15.12 593.53 L16.09 596.44 L19.00 598.38 L21.91 599.35 L24.82 599.35 L26.76 598.38 L27.73 597.41 L28.70 595.47 L28.70 593.53 L27.73 590.62 L24.82 588.68 L21.91 587.71 L19.00 587.71 L17.06 588.68 L16.09 589.65 L15.12 591.59 M15.12 593.53 L16.09 595.47 L19.00 597.41 L21.91 598.38 L25.79 598.38 L27.73 597.41 M28.70 593.53 L27.73 591.59 L24.82 589.65 L21.91 588.68 L18.03 588.68 L16.09 589.65 M16.09 589.65 L16.09 583.83 M29.67 573.74 L37.82 580.14 M29.67 573.16 L37.82 579.56 M29.67 579.56 L32.00 580.14 L29.67 580.14 L29.67 573.16 M37.82 580.14 L37.82 573.16 L35.49 573.16 L37.82 573.74"/>
</g>
</svg>
</body></html>
